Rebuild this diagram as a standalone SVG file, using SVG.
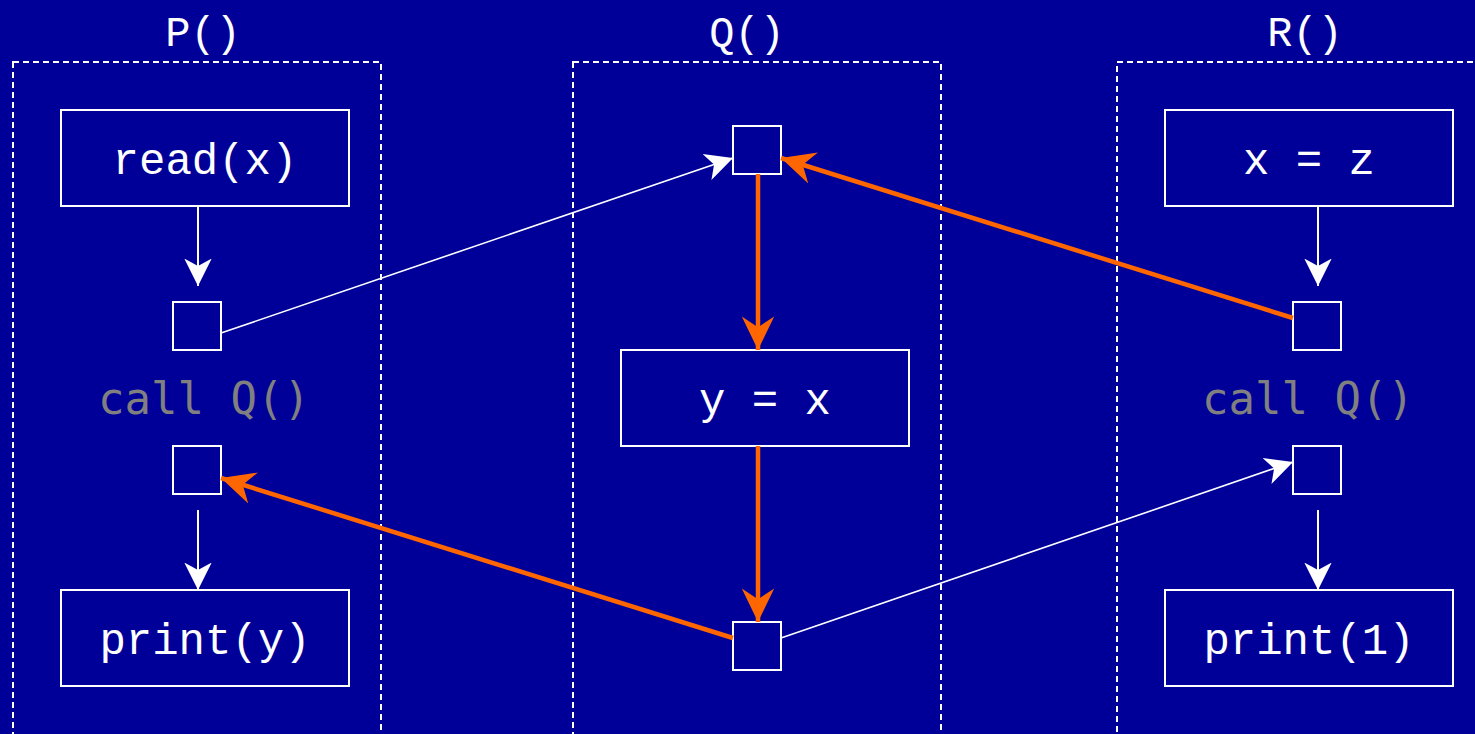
<svg xmlns="http://www.w3.org/2000/svg" width="1475" height="734" viewBox="0 0 1475 734">
<defs>
<style>
.frame{fill:none;stroke:#fff;stroke-width:2;stroke-dasharray:6 4}
.box{fill:none;stroke:#fff;stroke-width:2}
.t{font-family:"Liberation Mono","DejaVu Sans Mono",monospace;font-size:44px;fill:#fff;text-anchor:middle}
.title{font-family:"Liberation Mono","DejaVu Sans Mono",monospace;font-size:42px;fill:#fff;text-anchor:middle}
.call{font-family:"DejaVu Sans Mono","Liberation Mono",monospace;font-size:44px;fill:#808080;text-anchor:middle}
.w{fill:none;stroke:#fff;stroke-width:2}
.wt{fill:none;stroke:#fff;stroke-width:1.6}
.o{fill:none;stroke:#ff6600;stroke-width:4.5}
</style>
<marker id="aw" markerUnits="userSpaceOnUse" markerWidth="30" markerHeight="30" viewBox="-22 -12 24 24" refX="0" refY="0" orient="auto">
<path d="M0,0 L-22,-11 L-16,0 L-22,11 Z" fill="#fff"/>
</marker>
<marker id="ao" markerUnits="userSpaceOnUse" markerWidth="36" markerHeight="36" viewBox="-28 -15 30 30" refX="0" refY="0" orient="auto">
<path d="M0,0 L-28,-13.5 L-19,0 L-28,13.5 Z" fill="#ff6600"/>
</marker>
</defs>
<rect width="1475" height="734" fill="#000099"/>
<g id="P">
<text class="title" x="203" y="46">P()</text>
<rect class="frame" x="13" y="62" width="368" height="690"/>
</g>
<g id="Q">
<text class="title" x="747" y="46">Q()</text>
<rect class="frame" x="573" y="62" width="368" height="690"/>
</g>
<g id="R">
<text class="title" x="1305" y="46">R()</text>
<rect class="frame" x="1117" y="62" width="400" height="690"/>
</g>
<g id="readx"><rect class="box" x="61" y="110" width="288" height="96"/><text class="t" x="205" y="174">read(x)</text></g>
<g id="p_call"><rect class="box" x="173" y="302" width="48" height="48"/></g>
<g id="p_callQ"><text class="call" x="204" y="414">call Q()</text></g>
<g id="p_ret"><rect class="box" x="173" y="446" width="48" height="48"/></g>
<g id="printy"><rect class="box" x="61" y="590" width="288" height="96"/><text class="t" x="205" y="654">print(y)</text></g>
<g id="q_entry"><rect class="box" x="733" y="126" width="48" height="48"/></g>
<g id="yx"><rect class="box" x="621" y="350" width="288" height="96"/><text class="t" x="765" y="414">y = x</text></g>
<g id="q_exit"><rect class="box" x="733" y="622" width="48" height="48"/></g>
<g id="xz"><rect class="box" x="1165" y="110" width="288" height="96"/><text class="t" x="1309" y="174">x = z</text></g>
<g id="r_call"><rect class="box" x="1293" y="302" width="48" height="48"/></g>
<g id="r_callQ"><text class="call" x="1308" y="414">call Q()</text></g>
<g id="r_ret"><rect class="box" x="1293" y="446" width="48" height="48"/></g>
<g id="print1"><rect class="box" x="1165" y="590" width="288" height="96"/><text class="t" x="1309" y="654">print(1)</text></g>
<g id="connectors">
<line class="w" x1="198" y1="207" x2="198" y2="286" marker-end="url(#aw)"/>
<line class="w" x1="198" y1="510" x2="198" y2="590" marker-end="url(#aw)"/>
<line class="w" x1="1318" y1="207" x2="1318" y2="286" marker-end="url(#aw)"/>
<line class="w" x1="1318" y1="510" x2="1318" y2="590" marker-end="url(#aw)"/>
<line class="wt" x1="221" y1="333" x2="733" y2="158" marker-end="url(#aw)"/>
<line class="wt" x1="781" y1="638" x2="1293" y2="462" marker-end="url(#aw)"/>
<line class="o" x1="758" y1="174" x2="758" y2="350" marker-end="url(#ao)"/>
<line class="o" x1="758" y1="446" x2="758" y2="622" marker-end="url(#ao)"/>
<line class="o" x1="1293" y1="318" x2="781" y2="158" marker-end="url(#ao)"/>
<line class="o" x1="733" y1="638" x2="221" y2="478" marker-end="url(#ao)"/>
</g>
</svg>
